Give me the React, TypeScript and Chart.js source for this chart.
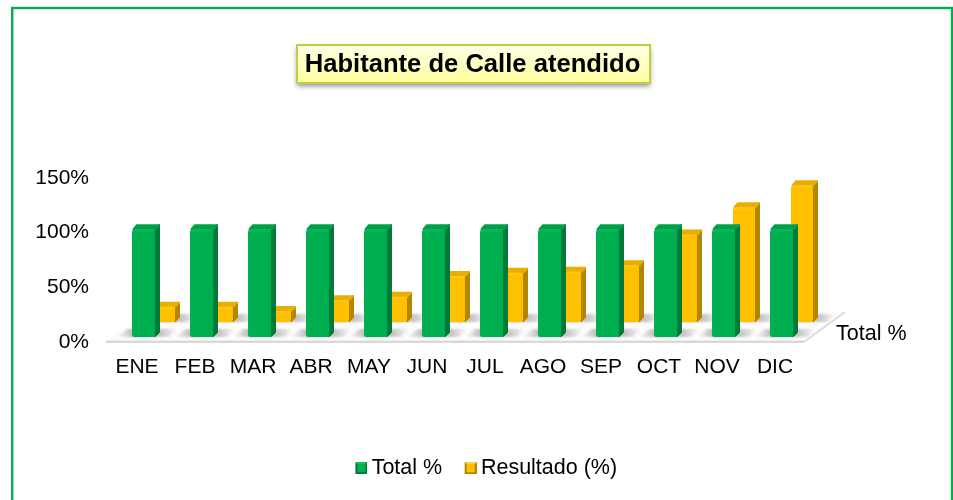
import React, { useEffect, useRef } from "react";
import { Chart, registerables } from "chart.js";

Chart.register(...registerables);

const categories = ["ENE", "FEB", "MAR", "ABR", "MAY", "JUN", "JUL", "AGO", "SEP", "OCT", "NOV", "DIC"];
const totalValues = [100, 100, 100, 100, 100, 100, 100, 100, 100, 100, 100, 100];
const resultValues = [14, 14, 10, 20, 23, 42, 45, 46, 52, 80, 105, 125];
const yTicks = [0, 50, 100, 150];
const chartTitle = "Habitante de Calle atendido";
const depthLabel = "Total %";

const FONT = "'Liberation Sans', Arial, sans-serif";
const looks = [
  { front: "#00B050", light: "#0FBB5C", side: "#007A38", top: "#00A049", dx: 6.5, dy: -5, inset: 1.5 },
  { front: "#FFC000", light: "#FFCB26", side: "#B38600", top: "#E8AE00", dx: 27, dy: -20, inset: 0 },
];

function swatch(front: string, top: string, side: string) {
  const c = document.createElement("canvas");
  c.width = 14;
  c.height = 12;
  const x = c.getContext("2d")!;
  x.fillStyle = side;
  x.fillRect(2, 0, 12, 12);
  x.fillStyle = top;
  x.beginPath();
  x.moveTo(2, 0);
  x.lineTo(14, 0);
  x.lineTo(8, 6);
  x.closePath();
  x.fill();
  x.fillStyle = front;
  x.fillRect(4, 2, 8, 8);
  return c;
}

function poly(ctx: CanvasRenderingContext2D, pts: number[][], color: string, lw: number) {
  ctx.fillStyle = color;
  ctx.strokeStyle = color;
  ctx.lineWidth = lw;
  ctx.lineJoin = "round";
  ctx.beginPath();
  pts.forEach((p, i) => (i ? ctx.lineTo(p[0], p[1]) : ctx.moveTo(p[0], p[1])));
  ctx.closePath();
  ctx.fill();
  ctx.stroke();
}

const bars3d = {
  id: "bars3d",
  beforeDatasetsDraw(chart: any) {
    const ctx = chart.ctx as CanvasRenderingContext2D;
    const { left, right, bottom } = chart.chartArea;
    const depthX = 41;
    const depthY = 30;
    ctx.save();
    ctx.fillStyle = "#FCFCFC";
    ctx.beginPath();
    ctx.moveTo(left - 2, bottom);
    ctx.lineTo(right, bottom);
    ctx.lineTo(right + depthX, bottom - depthY);
    ctx.lineTo(left - 2 + depthX, bottom - depthY);
    ctx.closePath();
    ctx.fill();
    ctx.strokeStyle = "#DDDDDD";
    ctx.lineWidth = 2;
    ctx.beginPath();
    ctx.moveTo(right, bottom);
    ctx.lineTo(right + depthX, bottom - depthY);
    ctx.stroke();
    ctx.fillStyle = "#D9D9D9";
    ctx.fillRect(left - 2, bottom - 1.5, right - left + 2, 2.5);
    ctx.restore();
  },
  beforeDatasetDraw(chart: any, args: any) {
    const ctx = chart.ctx as CanvasRenderingContext2D;
    const look = looks[args.index];
    const meta = chart.getDatasetMeta(args.index);
    const W = 5;
    const H = 5;
    ctx.save();
    meta.data.forEach((el: any) => {
      const { x, y, base, width } = el.getProps(["x", "y", "base", "width"], true);
      const l = x - width / 2 + look.dx;
      const r = x + width / 2 + look.dx;
      const t = y + look.dy + look.inset;
      const b = base + look.dy;
      // soft floor shadow
      const sh = ctx.createLinearGradient(l - 15, 0, r + 22, 0);
      sh.addColorStop(0, "rgba(120,120,120,0)");
      sh.addColorStop(0.3, "rgba(120,120,120,0.55)");
      sh.addColorStop(0.75, "rgba(120,120,120,0.4)");
      sh.addColorStop(1, "rgba(120,120,120,0)");
      ctx.save();
      ctx.filter = "blur(1.2px)";
      ctx.fillStyle = sh;
      ctx.beginPath();
      ctx.moveTo(l - 15, b);
      ctx.lineTo(l - 5, b - 8);
      ctx.lineTo(r + 24, b - 8);
      ctx.lineTo(r + 14, b);
      ctx.closePath();
      ctx.fill();
      ctx.restore();
      // side and top faces, softened by a round-joined outline
      poly(ctx, [[r, t], [r + W - 1, t - H + 1], [r + W - 1, b - H], [r, b - 1]], look.side, 2);
      poly(ctx, [[l + 1.5, t], [l + W, t - H + 1], [r + W - 1, t - H + 1], [r, t]], look.top, 2);
      // front face with a soft bevel at the top
      const g = ctx.createLinearGradient(0, t, 0, b);
      g.addColorStop(0, look.light);
      g.addColorStop(Math.min(0.5, 3 / Math.max(b - t, 1)), look.front);
      g.addColorStop(1, look.front);
      ctx.fillStyle = g;
      ctx.beginPath();
      ctx.roundRect(l, t, r - l, b - t, [3, 2, 2, 2]);
      ctx.fill();
    });
    ctx.restore();
    return false;
  },
  afterDatasetsDraw(chart: any) {
    const ctx = chart.ctx as CanvasRenderingContext2D;
    const { right, bottom } = chart.chartArea;
    ctx.save();
    ctx.fillStyle = "#000";
    ctx.font = `21.5px ${FONT}`;
    ctx.textAlign = "left";
    ctx.textBaseline = "middle";
    ctx.fillText(depthLabel, right + 32, bottom - 8);
    ctx.restore();
  },
};

const frame = {
  id: "frame",
  afterLayout(chart: any) {
    chart.legend.left += 86.5;
    chart.legend.right += 86.5;
    chart.legend.top -= 11;
    chart.legend.bottom -= 11;
    chart.titleBlock.left += 70.5;
    chart.titleBlock.right += 70.5;
  },
  beforeDraw(chart: any) {
    const ctx = chart.ctx as CanvasRenderingContext2D;
    ctx.save();
    ctx.fillStyle = "#FFFFFF";
    ctx.fillRect(0, 0, chart.width, chart.height);
    ctx.strokeStyle = "#00B050";
    ctx.lineWidth = 2.4;
    ctx.strokeRect(12.2, 8, 939.8, 520);
    // title box
    ctx.shadowColor = "rgba(0,0,0,0.45)";
    ctx.shadowBlur = 5;
    ctx.shadowOffsetX = 0;
    ctx.shadowOffsetY = 3;
    const g = ctx.createLinearGradient(0, 44, 0, 83);
    g.addColorStop(0, "#FFFFE8");
    g.addColorStop(1, "#FFFF9E");
    ctx.fillStyle = g;
    ctx.fillRect(297, 45, 353, 38);
    ctx.shadowColor = "transparent";
    ctx.strokeStyle = "#BFCF3F";
    ctx.lineWidth = 2;
    ctx.strokeRect(297, 45, 353, 38);
    ctx.restore();
  },
};

export default function App() {
  const ref = useRef<HTMLCanvasElement>(null);
  useEffect(() => {
    const chart = new Chart(ref.current!, {
      type: "bar",
      data: {
        labels: categories,
        datasets: [
          { label: "Total %", data: totalValues, backgroundColor: "#00B050", grouped: false, barThickness: 23, order: 2, pointStyle: swatch("#00B050", "#12C060", "#007A38") } as any,
          { label: "Resultado (%)", data: resultValues, backgroundColor: "#FFC000", grouped: false, barThickness: 22, order: 3, pointStyle: swatch("#FFC000", "#FFD040", "#B38600") } as any,
        ],
      },
      options: {
        animation: false,
        responsive: false,
        maintainAspectRatio: false,
        layout: { padding: { left: 0, right: 149, top: 49.6, bottom: 0 } },
        scales: {
          x: {
            afterFit: (s: any) => { s.height = 99.5; },
            grid: { display: false },
            border: { display: false },
            ticks: { color: "#000", font: { family: FONT, size: 21 }, padding: 5, maxRotation: 0, autoSkip: false },
          },
          y: {
            min: 0,
            max: 150,
            afterFit: (s: any) => { s.width = 108; },
            afterBuildTicks: (s: any) => { s.ticks = yTicks.map((v) => ({ value: v })); },
            grid: { display: false },
            border: { display: false },
            ticks: { color: "#000", font: { family: FONT, size: 21 }, padding: 11, callback: (v: any) => `${v}%` },
          },
        },
        plugins: {
          title: {
            display: true,
            text: chartTitle,
            color: "#000",
            font: { family: FONT, size: 25.6, weight: "bold" },
            padding: { top: 0, bottom: 97.7 },
          },
          legend: {
            position: "bottom",
            labels: {
              color: "#000",
              font: { family: FONT, size: 21.5 },
              usePointStyle: true,
              pointStyleWidth: 1,
              padding: 27,
              generateLabels: (c: any) =>
                c.data.datasets.map((d: any, i: number) => ({
                  text: d.label,
                  fontColor: "#000",
                  pointStyle: d.pointStyle,
                  datasetIndex: i,
                })),
            },
          },
          tooltip: { enabled: false },
        },
      },
      plugins: [frame, bars3d],
    });
    return () => chart.destroy();
  }, []);
  return (
    <div style={{ position: "absolute", left: 0, top: 0, width: 953, height: 500 }}>
      <canvas ref={ref} width={953} height={500} style={{ display: "block" }} />
    </div>
  );
}
